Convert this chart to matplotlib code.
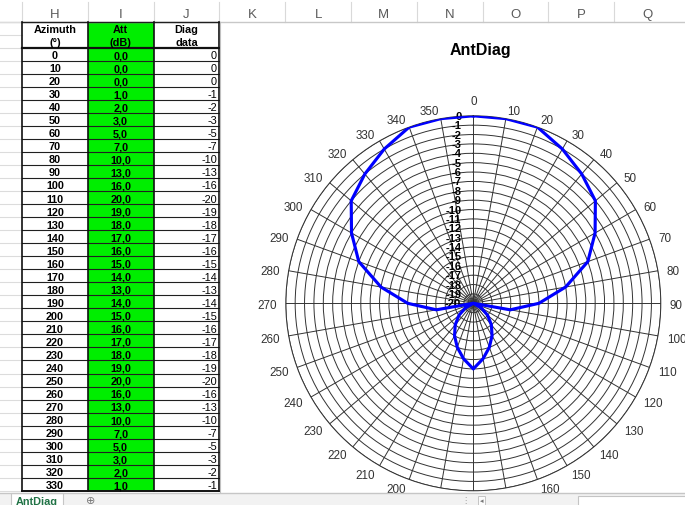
import numpy as np
import matplotlib
matplotlib.use("Agg")
import matplotlib.pyplot as plt
from matplotlib.patches import Rectangle
from matplotlib.transforms import ScaledTranslation

# ---- sheet data -------------------------------------------------------------
azimuth = [0, 10, 20, 30, 40, 50, 60, 70, 80, 90, 100, 110,
           120, 130, 140, 150, 160, 170, 180, 190, 200, 210, 220, 230,
           240, 250, 260, 270, 280, 290, 300, 310, 320, 330, 340, 350]
att_db = [0, 0, 0, 1, 2, 3, 5, 7, 10, 13, 16, 20,
          19, 18, 17, 16, 15, 14, 13, 14, 15, 16, 17, 18,
          19, 20, 16, 13, 10, 7, 5, 3, 2, 1, 0, 0]
diag_data = [0, 0, 0, -1, -2, -3, -5, -7, -10, -13, -16, -20,
             -19, -18, -17, -16, -15, -14, -13, -14, -15, -16, -17, -18,
             -19, -20, -16, -13, -10, -7, -5, -3, -2, -1, 0, 0]
r_ticks = [-20, -19, -18, -17, -16, -15, -14, -13, -12, -11, -10,
           -9, -8, -7, -6, -5, -4, -3, -2, -1, 0]
col_letters = ["H", "I", "J", "K", "L", "M", "N", "O", "P", "Q"]
headers = [("Azimuth", "(°)"), ("Att", "(dB)"), ("Diag", "data")]
visible_rows = 34
chart_title = "AntDiag"
sheet_name = "AntDiag"

plt.rcParams["font.family"] = ["Liberation Sans", "DejaVu Sans"]

W, H = 685, 506
fig = plt.figure(figsize=(W / 100, H / 100), dpi=100)
fig.patch.set_facecolor("white")

# ---- worksheet layer (pixel coordinates) -------------------------------------
sheet = fig.add_axes([0, 0, 1, 1], zorder=0)
sheet.set_xlim(0, W)
sheet.set_ylim(H, 0)
sheet.axis("off")

col_w = 65.8
col_x0 = 22.0
row_h = 13.03
row_y0 = 22.7
n_rows = 2 + visible_rows

# column letters strip
for i, letter in enumerate(col_letters):
    xl = col_x0 + i * col_w
    sheet.text(xl + col_w / 2, 15, letter, ha="center", va="center",
               fontsize=9.5, color="#5a5a5a")
    sheet.plot([xl, xl], [3, row_y0], color="#d9d9d9", lw=0.8)
sheet.plot([0, W], [row_y0, row_y0], color="#c8c8c8", lw=1.0)

# row gridlines left of the table
for k in range(n_rows + 1):
    y = row_y0 + k * row_h
    sheet.plot([0, col_x0], [y, y], color="#dcdcdc", lw=0.8)

x_h = col_x0
x_i = col_x0 + col_w
x_j = col_x0 + 2 * col_w
x_end = col_x0 + 3 * col_w
y_top = row_y0
y_hdr = row_y0 + 2 * row_h
y_bot = row_y0 + n_rows * row_h

sheet.add_patch(Rectangle((x_h, y_top), x_end - x_h, y_bot - y_top,
                          fc="white", ec="none"))
sheet.add_patch(Rectangle((x_i, y_top), col_w, y_bot - y_top,
                          fc="#00ee00", ec="none"))

# header texts
for j, (l1, l2) in enumerate(headers):
    xc = x_h + (j + 0.5) * col_w
    sheet.text(xc, y_top + 0.5 * row_h + 3.8, l1, ha="center", va="baseline",
               fontsize=7.8, weight="bold", color="black")
    sheet.text(xc, y_top + 1.5 * row_h + 3.8, l2, ha="center", va="baseline",
               fontsize=7.8, weight="bold", color="black")

# data rows
for k in range(visible_rows):
    yb = y_hdr + (k + 0.5) * row_h + 3.9
    sheet.text(x_h + col_w / 2, yb, f"{azimuth[k]}", ha="center",
               va="baseline", fontsize=7.8, weight="bold", color="black")
    sheet.text(x_i + col_w / 2, yb, f"{att_db[k]:.1f}".replace(".", ","),
               ha="center", va="baseline", fontsize=7.8, weight="bold",
               color="black")
    sheet.text(x_end - 2.5, yb, f"{diag_data[k]}", ha="right",
               va="baseline", fontsize=7.8, color="black")

# table borders
for k in range(3, n_rows):
    y = row_y0 + k * row_h
    sheet.plot([x_h, x_end], [y, y], color="#202020", lw=0.8)
sheet.plot([x_h, x_end], [y_top, y_top], color="#202020", lw=1.0)
sheet.plot([x_h, x_end], [y_hdr, y_hdr], color="#111111", lw=1.6)
sheet.plot([x_h, x_end], [y_bot, y_bot], color="#111111", lw=1.4)
for x in (x_h, x_i, x_j, x_end):
    sheet.plot([x, x], [y_top, y_bot], color="#111111", lw=1.2)

# chart area border
sheet.plot([x_end + 0.8, x_end + 0.8], [y_top, H], color="#c0c0c0", lw=0.8)
sheet.text(480, 50, chart_title, ha="center", va="center", fontsize=11.5,
           weight="bold", color="black")

# ---- radar chart -------------------------------------------------------------
cx, cy, R = 473.3, 304.3, 187.5
ax = fig.add_axes([(cx - R) / W, (H - cy - R) / H, 2 * R / W, 2 * R / H],
                  projection="polar", zorder=2)
ax.set_theta_zero_location("N")
ax.set_theta_direction(-1)
r_min, r_max = r_ticks[0], r_ticks[-1]
ax.set_ylim(r_min, r_max)
ax.set_yticks(r_ticks)
ax.set_yticklabels([])
theta = np.deg2rad(azimuth)
ax.set_xticks(theta)
ax.set_xticklabels([])
ax.tick_params(axis="both", length=0)
ax.grid(True, color="#333333", lw=0.7)
ax.spines["polar"].set_color("#333333")
ax.spines["polar"].set_linewidth(0.7)

# category labels around the rim, anchored just outside the outer ring
label_gap_px = 9.0
r_label = r_max + label_gap_px / R * (r_max - r_min)
for a, t in zip(azimuth, theta):
    s = np.sin(t)
    if abs(s) < 1e-6:
        ha = "center"
        va = "bottom" if np.cos(t) > 0 else "top"
    else:
        ha = "left" if s > 0 else "right"
        va = "center_baseline"
    ax.text(t, r_label, str(a), ha=ha, va=va, fontsize=8.4, color="#333333",
            clip_on=False)

# value-axis labels down the 0° spoke
shift = ax.transData + ScaledTranslation(-12 / 100, 0, fig.dpi_scale_trans)
for v in r_ticks:
    ax.text(0, v, str(v), transform=shift, ha="right", va="center",
            fontsize=8.0, weight="bold", color="black", clip_on=False,
            zorder=4)

ax.plot(np.append(theta, theta[0]), diag_data + [diag_data[0]],
        color="#0000ff", lw=2.25, zorder=5)

# ---- sheet tab bar -----------------------------------------------------------
bar = fig.add_axes([0, 0, 1, 1], zorder=6)
bar.set_xlim(0, W)
bar.set_ylim(H, 0)
bar.axis("off")
bar.patch.set_alpha(0)
bar_top = 493.5
bar.add_patch(Rectangle((0, bar_top), W, H - bar_top, fc="#f2f2f2", ec="none"))
bar.plot([0, W], [bar_top, bar_top], color="#c6c6c6", lw=1.0)
bar.add_patch(Rectangle((11.5, bar_top), 51.5, H - bar_top + 2, fc="white",
                        ec="#c6c6c6", lw=0.8))
bar.text(37, 501.8, sheet_name, ha="center", va="center", fontsize=7.8,
         weight="bold", color="#217346")
bar.text(91, 501.5, "⊕", ha="center", va="center", fontsize=8,
         color="#7a7a7a", family="DejaVu Sans")
bar.text(465, 501, "⋮", ha="center", va="center", fontsize=6,
         color="#9a9a9a", family="DejaVu Sans")
bar.add_patch(Rectangle((478, 496.5), 7, 9, fc="#fbfbfb", ec="#c4c4c4", lw=0.7))
bar.text(481.5, 501, "◂", ha="center", va="center", fontsize=5,
         color="#777777", family="DejaVu Sans")
bar.add_patch(Rectangle((578, 497), 110, 11, fc="white", ec="#c4c4c4", lw=0.8))

fig.savefig("out.png", dpi=100)
